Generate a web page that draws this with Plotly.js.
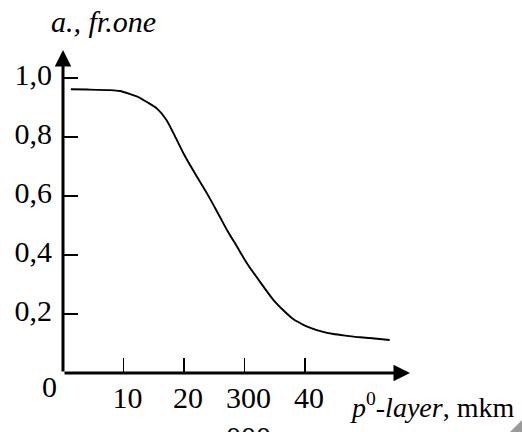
<!DOCTYPE html>
<html>
<head>
<meta charset="utf-8">
<script src="https://cdn.plot.ly/plotly-3.0.1.min.js"></script>
<style>html,body{margin:0;padding:0;background:#fff;}#chart{width:522px;height:432px;}</style>
</head>
<body>
<div id="chart"></div>
<script>
// Curve (x: p0-layer thickness, y: fraction)
const xValues = [1.3, 4, 7.8, 9.4, 11, 12.7, 14, 15.5, 17.1, 18.5, 19.9, 21.8, 23.8, 25.5, 27.1, 28.8, 30.4, 32.6, 34.8, 36.5, 38.1, 39.5, 40.8, 42.7, 44.7, 47, 49.1, 51.5, 54.0];
const yValues = [0.962, 0.961, 0.959, 0.956, 0.946, 0.933, 0.917, 0.897, 0.858, 0.803, 0.745, 0.677, 0.609, 0.546, 0.485, 0.427, 0.372, 0.308, 0.247, 0.211, 0.182, 0.166, 0.154, 0.141, 0.132, 0.126, 0.121, 0.117, 0.112];

const xTickVals = [10, 20, 30, 40];
const xTickText = ["10", "20", "300<br>000", "40"];
const yTickVals = [0.2, 0.4, 0.6, 0.8, 1.0];
const yTickText = ["0,2", "0,4", "0,6", "0,8", "1,0"];

const yTitle = "<i>a., fr.one</i>";
const xTitle = "<i>p</i><sup>0</sup><i>-layer</i>, mkm";
const originLabel = "0";

const xMax = 57.36;
const yMax = 1.095;

const FONT = "Liberation Serif, Times New Roman, serif";
const FS = 30;

const trace = {
  x: xValues, y: yValues, type: "scatter", mode: "lines",
  line: {color: "#000", width: 1.9, shape: "spline", smoothing: 0.6},
  hoverinfo: "skip", showlegend: false
};

const layout = {
  width: 522, height: 432,
  margin: {l: 63, r: 112, t: 50, b: 59, pad: 0},
  paper_bgcolor: "#fff", plot_bgcolor: "#fff",
  font: {family: FONT, size: FS, color: "#000"},
  xaxis: {
    range: [0, xMax], showgrid: false, zeroline: false, showline: false,
    tickmode: "array", tickvals: xTickVals, ticktext: xTickText,
    ticks: "inside", ticklen: 15, tickwidth: 1.8, tickcolor: "#000",
    ticklabelshift: 4, ticklabelstandoff: 4,
    tickfont: {family: FONT, size: FS, color: "#000"}
  },
  yaxis: {
    range: [0, yMax], showgrid: false, zeroline: false, showline: false,
    tickmode: "array", tickvals: yTickVals, ticktext: yTickText,
    ticks: "inside", ticklen: 15, tickwidth: 1.8, tickcolor: "#000",
    ticklabelshift: -4, ticklabelstandoff: 10,
    tickfont: {family: FONT, size: FS, color: "#000"}
  },
  annotations: [
    {xref: "x", yref: "y", axref: "x", ayref: "y", x: 0, y: yMax, ax: 0, ay: 0,
     text: "", showarrow: true, arrowhead: 2, arrowwidth: 3, arrowsize: 1.1, arrowcolor: "#000", standoff: 0, startstandoff: 0},
    {xref: "x", yref: "y", axref: "x", ayref: "y", x: xMax, y: 0, ax: 0, ay: 0,
     text: "", showarrow: true, arrowhead: 2, arrowwidth: 3, arrowsize: 1.1, arrowcolor: "#000", standoff: 0, startstandoff: 0},
    {xref: "paper", yref: "paper", x: 0.118, y: 1.087, xanchor: "center", yanchor: "middle",
     text: yTitle, showarrow: false, font: {family: FONT, size: FS, color: "#000"}},
    {xref: "x", yref: "y", x: 47.1, y: 0, xanchor: "left", yanchor: "top", yshift: -13,
     text: xTitle, showarrow: false, font: {family: FONT, size: 28, color: "#000"}},
    {xref: "x", yref: "y", x: 0, y: 0, xanchor: "right", yanchor: "middle", xshift: -4, yshift: -13,
     text: originLabel, showarrow: false, font: {family: FONT, size: FS, color: "#000"}}
  ],
  shapes: [
    {type: "path", xref: "paper", yref: "paper", path: "M1.323,-0.1455 L1.323,-0.183 L1.288,-0.183 Z",
     fillcolor: "#9a9a9a", line: {width: 0}}
  ]
};

Plotly.newPlot("chart", [trace], layout, {staticPlot: true, displayModeBar: false});
</script>
</body>
</html>
